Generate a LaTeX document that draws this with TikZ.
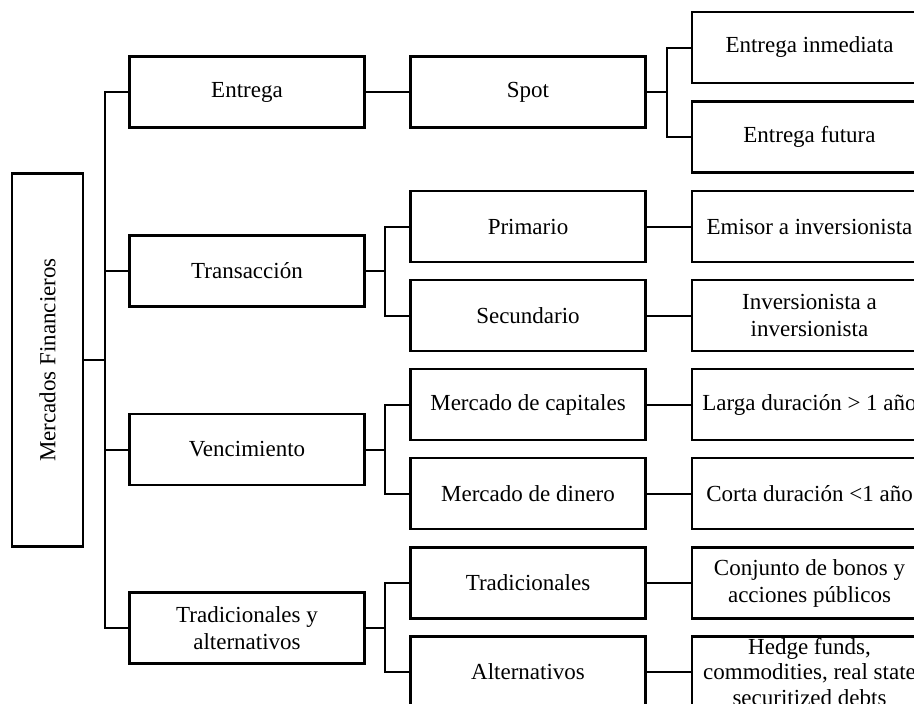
\documentclass[tikz,border=0pt]{standalone}
\usepackage{fontspec}
\setmainfont{Liberation Serif}
\begin{document}
\begin{tikzpicture}[x=1pt,y=-1pt,
  box/.style={draw=black, line width=2.6pt, fill=white, inner sep=0pt,
    minimum width=235pt, minimum height=71pt, align=center,
    font=\fontsize{23}{27}\selectfont},
  link/.style={draw=black, line width=2pt}]
\useasboundingbox (0,0) rectangle (914,704);
\clip (0,0) rectangle (914,704);
\fill[white] (0,0) rectangle (914,704);

% root
\node[box, minimum width=71pt, minimum height=373pt] (root) at (47.5,360)
  {\rotatebox{90}{Mercados Financieros}};

% first level
\node[box] (entrega) at (247,92)  {Entrega};
\node[box] (trans)   at (247,271) {Transacción};
\node[box] (venc)    at (247,449.5) {Vencimiento};
\node[box] (trad)    at (247,628) {Tradicionales y\\alternativos};

% second level
\node[box] (spot) at (528,92)    {Spot};
\node[box] (prim) at (528,226.5) {Primario};
\node[box] (sec)  at (528,315.5) {Secundario};
\node[box] (cap)  at (528,404.5) {Mercado de capitales};
\node[box] (din)  at (528,493.5) {Mercado de dinero};
\node[box] (tra)  at (528,583)   {Tradicionales};
\node[box] (alt)  at (528,672)   {Alternativos};

% third level
\node[box] (inm)  at (809.5,47.5)  {Entrega inmediata};
\node[box] (fut)  at (809.5,137)   {Entrega futura};
\node[box] (emi)  at (809.5,226.5) {Emisor a inversionista};
\node[box] (inv)  at (809.5,315.5) {Inversionista a\\inversionista};
\node[box] (lar)  at (809.5,404.5) {Larga duración > 1 año};
\node[box] (cor)  at (809.5,493.5) {Corta duración <1 año};
\node[box] (con)  at (809.5,583)   {Conjunto de bonos y\\acciones públicos};
\node[box, font=\fontsize{23}{25.5}\selectfont] (hed) at (809.5,672)
  {Hedge funds,\\commodities, real state\\securitized debts};

% connectors
\foreach \c in {entrega,trans,venc,trad}
  \draw[link] (\c.west) -- ++(-23,0) |- (root.east);
\draw[link] (entrega.east) -- (spot.west);
\foreach \c in {inm,fut}
  \draw[link] (\c.west) -- ++(-24,0) |- (spot.east);
\foreach \c in {prim,sec}
  \draw[link] (\c.west) -- ++(-24,0) |- (trans.east);
\foreach \c in {cap,din}
  \draw[link] (\c.west) -- ++(-24,0) |- (venc.east);
\foreach \c in {tra,alt}
  \draw[link] (\c.west) -- ++(-24,0) |- (trad.east);
\draw[link] (prim.east) -- (emi.west);
\draw[link] (sec.east) -- (inv.west);
\draw[link] (cap.east) -- (lar.west);
\draw[link] (din.east) -- (cor.west);
\draw[link] (tra.east) -- (con.west);
\draw[link] (alt.east) -- (hed.west);
\end{tikzpicture}
\end{document}
